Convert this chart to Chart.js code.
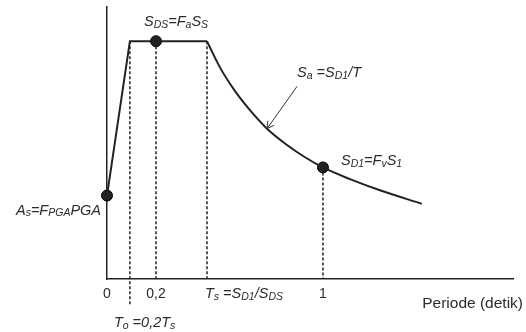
<!DOCTYPE html>
<html lang="id">
<head>
<meta charset="UTF-8">
<title>Spektrum Respons Desain</title>
<script src="https://cdn.jsdelivr.net/npm/chart.js@4.4.1/dist/chart.umd.min.js"></script>
<style>
  html, body { margin: 0; padding: 0; background: #fff; }
  #wrap { width: 526px; height: 332px; position: relative; }
</style>
</head>
<body>
<div id="wrap"><canvas id="spektrum" width="526" height="332"></canvas></div>
<script>
// periode T (detik) dan Sa (relatif thd SDS)
const garisT = [0, 0.106, 0.463];
const garisSa = [0.351, 1.0, 1.0];
const kurvaT = [0.463, 0.523, 0.593, 0.662, 0.741, 0.824, 0.917, 1.0, 1.125, 1.264, 1.458];
const kurvaSa = [1.0, 0.89, 0.79, 0.71, 0.632, 0.57, 0.512, 0.469, 0.42, 0.373, 0.316];
const titikT = [0, 0.227, 1.0];
const titikSa = [0.351, 1.0, 0.469];
const putusT = [0.106, 0.227, 0.463, 1.0];
const putusAtas = [1.0, 1.0, 1.0, 0.469];
const putusBawah = [-0.109, 0, 0, 0];
const panahT = [0.880, 0.741];
const panahSa = [0.810, 0.632];
const tickT = [0, 0.227, 1.0];
const tickLabel = ['0', '0,2', '1'];

// teks dengan subscript: [teks, subscript?]
const labelSDS = [['S', 0], ['DS', 1], ['=F', 0], ['a', 1], ['S', 0], ['S', 1]];
const labelSa = [['S', 0], ['a', 1], [' =S', 0], ['D1', 1], ['/T', 0]];
const labelSD1 = [['S', 0], ['D1', 1], ['=F', 0], ['v', 1], ['S', 0], ['1', 1]];
const labelAs = [['A', 0], ['s', 1], ['=F', 0], ['PGA', 1], ['PGA', 0]];
const labelTs = [['T', 0], ['s', 1], [' =S', 0], ['D1', 1], ['/S', 0], ['DS', 1]];
const labelT0 = [['T', 0], ['o', 1], [' =0,2T', 0], ['s', 1]];
const judulX = 'Periode (detik)';

const hitam = '#222';
const teks = '#2b2b2b';

function xy(tArr, sArr) {
  return tArr.map((t, i) => ({ x: t, y: sArr[i] }));
}

function tulis(ctx, parts, x, y, align) {
  const besar = 'italic 14.5px "Liberation Sans", Arial, sans-serif';
  const kecil = 'italic 10.5px "Liberation Sans", Arial, sans-serif';
  let w = 0;
  parts.forEach(([s, sub]) => { ctx.font = sub ? kecil : besar; w += ctx.measureText(s).width; });
  let cx = align === 'center' ? x - w / 2 : (align === 'right' ? x - w : x);
  ctx.textAlign = 'left';
  ctx.textBaseline = 'alphabetic';
  parts.forEach(([s, sub]) => {
    ctx.font = sub ? kecil : besar;
    ctx.fillText(s, cx, y + (sub ? 1.5 : 0));
    cx += ctx.measureText(s).width;
  });
}

const labelPlugin = {
  id: 'labelSpektrum',
  afterDatasetsDraw(chart) {
    const { ctx, scales: { x, y } } = chart;
    ctx.save();

    // kepala panah
    const x0 = x.getPixelForValue(panahT[0]), y0 = y.getPixelForValue(panahSa[0]);
    const x1 = x.getPixelForValue(panahT[1]), y1 = y.getPixelForValue(panahSa[1]);
    const a = Math.atan2(y1 - y0, x1 - x0);
    ctx.strokeStyle = '#333';
    ctx.lineWidth = 1;
    ctx.beginPath();
    ctx.moveTo(x1 - 8 * Math.cos(a - 0.5), y1 - 8 * Math.sin(a - 0.5));
    ctx.lineTo(x1, y1);
    ctx.lineTo(x1 - 8 * Math.cos(a + 0.5), y1 - 8 * Math.sin(a + 0.5));
    ctx.stroke();

    ctx.fillStyle = teks;
    // label tick sumbu x
    ctx.font = '14px "Liberation Sans", Arial, sans-serif';
    ctx.textAlign = 'center';
    ctx.textBaseline = 'alphabetic';
    const bawah = y.getPixelForValue(0);
    tickT.forEach((t, i) => ctx.fillText(tickLabel[i], x.getPixelForValue(t), bawah + 19));

    ctx.font = '15.5px "Liberation Sans", Arial, sans-serif';
    ctx.textAlign = 'right';
    ctx.fillText(judulX, x.right + 10, bawah + 29);

    tulis(ctx, labelTs, x.getPixelForValue(garisT[2]) - 2, bawah + 19, 'left');
    tulis(ctx, labelT0, x.getPixelForValue(putusT[0]) - 16, bawah + 48, 'left');

    tulis(ctx, labelSDS, x.getPixelForValue(titikT[1]) - 12, y.getPixelForValue(1) - 15, 'left');
    tulis(ctx, labelSa, x0, y0 - 9, 'left');
    tulis(ctx, labelSD1, x.getPixelForValue(titikT[2]) + 18, y.getPixelForValue(titikSa[2]) - 2, 'left');
    tulis(ctx, labelAs, x.getPixelForValue(0) - 6, y.getPixelForValue(titikSa[0]) + 19, 'right');

    ctx.restore();
  }
};

const garisPutus = putusT.map((t, i) => ({
  data: [{ x: t, y: putusAtas[i] }, { x: t, y: putusBawah[i] }],
  borderColor: hitam,
  borderWidth: 1.5,
  borderDash: [3, 2],
  pointRadius: 0,
  showLine: true,
  clip: false
}));

new Chart(document.getElementById('spektrum'), {
  type: 'scatter',
  data: {
    datasets: [
      ...garisPutus,
      {
        data: xy(garisT, garisSa),
        borderColor: hitam,
        borderWidth: 2,
        pointRadius: 0,
        showLine: true
      },
      {
        data: xy(kurvaT, kurvaSa),
        borderColor: hitam,
        borderWidth: 2,
        pointRadius: 0,
        showLine: true,
        cubicInterpolationMode: 'monotone'
      },
      {
        data: xy(panahT, panahSa),
        borderColor: '#333',
        borderWidth: 1,
        pointRadius: 0,
        showLine: true
      },
      {
        data: xy(titikT, titikSa),
        backgroundColor: hitam,
        borderColor: '#000',
        borderWidth: 1,
        pointRadius: 5.5,
        showLine: false,
        clip: false
      }
    ]
  },
  options: {
    responsive: false,
    animation: false,
    events: [],
    layout: { padding: { left: 107, right: 13, top: 5, bottom: 53 } },
    plugins: { legend: { display: false }, tooltip: { enabled: false } },
    scales: {
      x: {
        type: 'linear',
        min: 0,
        max: 1.88,
        grid: { display: false, drawTicks: false },
        ticks: { display: false },
        border: { display: true, color: hitam, width: 1.5 }
      },
      y: {
        type: 'linear',
        min: 0,
        max: 1.146,
        grid: { display: false, drawTicks: false },
        ticks: { display: false },
        border: { display: true, color: hitam, width: 1.5 }
      }
    }
  },
  plugins: [labelPlugin]
});
</script>
</body>
</html>
